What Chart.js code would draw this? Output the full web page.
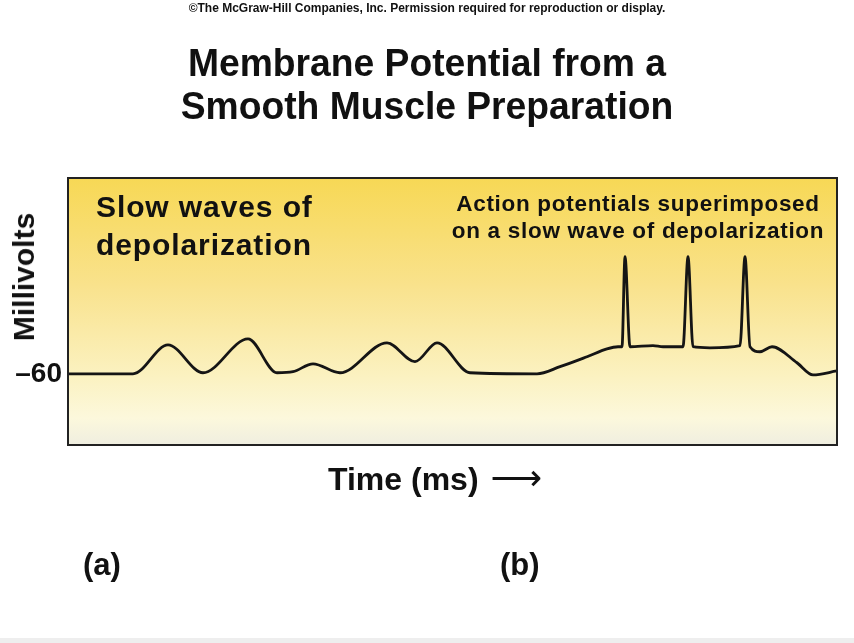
<!DOCTYPE html>
<html>
<head>
<meta charset="utf-8">
<script src="https://cdn.jsdelivr.net/npm/chart.js@4"></script>
<style>
  body { margin: 0; background: #fff; }
  #wrap { position: relative; width: 854px; height: 643px; overflow: hidden; font-family: "Liberation Sans", Arial, sans-serif; font-weight: bold; color: #111; }
  #wrap canvas { position: absolute; left: 0; top: 0; }
  .t { position: absolute; white-space: nowrap; }
  #copy { left: 0; width: 854px; top: 2px; font-size: 12px; line-height: 13px; text-align: center; }
  #title { left: 0; width: 854px; top: 42px; font-size: 38px; line-height: 43px; text-align: center; transform: scaleX(0.98); }
  #slow { left: 96px; top: 188px; font-size: 30px; line-height: 38px; letter-spacing: 0.9px; }
  #action { left: 388px; width: 500px; top: 190px; font-size: 22.5px; line-height: 27px; letter-spacing: 0.7px; text-align: center; }
  #mv { left: 24px; top: 277px; font-size: 30px; line-height: 34px; transform: translate(-50%, -50%) rotate(-90deg); }
  #time { left: 328px; top: 460px; font-size: 32px; line-height: 36px; }
  #arrow { font-family: "DejaVu Sans", sans-serif; font-weight: normal; font-size: 36px; margin-left: 12px; }
  #pa { left: 83px; top: 547px; font-size: 31px; line-height: 35px; }
  #pb { left: 500px; top: 547px; font-size: 31px; line-height: 35px; }
  #strip { position: absolute; left: 0; top: 638px; width: 854px; height: 5px; background: #eeeeee; }
</style>
</head>
<body>
<div id="wrap">
  <canvas id="potentialChart" width="854" height="643"></canvas>
  <div class="t" id="copy">©The McGraw-Hill Companies, Inc. Permission required for reproduction or display.</div>
  <div class="t" id="title">Membrane Potential from a<br>Smooth Muscle Preparation</div>
  <div class="t" id="slow">Slow waves of<br>depolarization</div>
  <div class="t" id="action">Action potentials superimposed<br>on a slow wave of depolarization</div>
  <div class="t" id="mv">Millivolts</div>
  <div class="t" id="time">Time (ms)<span id="arrow">⟶</span></div>
  <div class="t" id="pa">(a)</div>
  <div class="t" id="pb">(b)</div>
  <div id="strip"></div>
</div>
<script>
// --- Datos del trazado ---
const timeMs = [0, 65, 100, 135, 180, 209, 225, 245, 272, 319, 347, 369, 402, 469,
    492, 519, 539, 550, 554, 557, 562, 585, 595, 615, 620, 625, 642, 672, 677, 682,
    692, 704, 729, 745, 769];
const millivolts = [-60, -60, -51.9, -59.7, -50.2, -59.7, -59.4, -57.2, -59.7, -51.3, -56.6, -51.3, -59.7, -60,
    -58.0, -55.2, -53.0, -52.4, -52.4, -27.1, -52.4, -52.1, -52.4, -52.4, -27.1, -52.4, -52.7, -52.1, -27.1, -52.4,
    -53.8, -52.4, -56.9, -60.3, -59.2];
const yTicks = [-60];

// Fondo degradado amarillo y marco del área del gráfico
const framePlugin = {
    id: 'frame',
    beforeDraw(chart) {
        const { ctx, chartArea: a } = chart;
        const g = ctx.createLinearGradient(0, a.top, 0, a.bottom);
        g.addColorStop(0, '#f7d855');
        g.addColorStop(0.4, '#f9e28c');
        g.addColorStop(0.75, '#fbf2c2');
        g.addColorStop(0.9, '#fcf8dc');
        g.addColorStop(1, '#efeee0');
        ctx.save();
        ctx.fillStyle = g;
        ctx.fillRect(a.left, a.top, a.right - a.left, a.bottom - a.top);
        ctx.restore();
    },
    afterDraw(chart) {
        const { ctx, chartArea: a } = chart;
        ctx.save();
        ctx.strokeStyle = '#222';
        ctx.lineWidth = 2;
        ctx.strokeRect(a.left, a.top, a.right - a.left, a.bottom - a.top);
        ctx.restore();
    }
};

const ctx = document.getElementById('potentialChart').getContext('2d');
new Chart(ctx, {
    type: 'line',
    data: {
        datasets: [{
            data: timeMs.map((t, i) => ({ x: t, y: millivolts[i] })),
            borderColor: '#151515',
            borderWidth: 2.8,
            pointRadius: 0,
            cubicInterpolationMode: 'monotone',
            fill: false
        }]
    },
    options: {
        responsive: false,
        animation: false,
        devicePixelRatio: 1,
        layout: { padding: { left: 0, top: 178, right: 17, bottom: 198 } },
        scales: {
            x: { type: 'linear', min: 0, max: 769, display: false },
            y: {
                min: -80,
                max: -5,
                afterFit: s => { s.width = 68; },
                afterBuildTicks: s => { s.ticks = yTicks.map(v => ({ value: v })); },
                grid: { display: false, drawTicks: false },
                border: { display: false },
                ticks: {
                    padding: 6,
                    color: '#111',
                    font: { family: 'Liberation Sans', size: 28, weight: 'bold' },
                    callback: v => '\u2013' + Math.abs(v)
                }
            }
        },
        plugins: { legend: { display: false }, tooltip: { enabled: false } }
    },
    plugins: [framePlugin]
});
</script>
</body>
</html>
